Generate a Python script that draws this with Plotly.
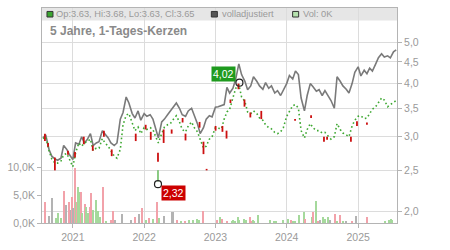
import math
import pandas as pd
import plotly.graph_objects as go

# ---- data ----
adj_close = [2.98, 3.03, 2.80, 2.70, 2.66, 2.64, 2.67, 2.86, 2.80, 2.72,
             2.65, 2.90, 2.88, 3.00, 2.90, 2.95, 3.05, 2.86, 2.90, 2.92,
             3.10, 3.05, 2.98, 2.90, 2.86, 2.90, 3.30, 3.42, 3.72, 3.60,
             3.40, 3.32, 3.45, 3.28, 3.40, 3.35, 3.38, 3.30, 3.15, 2.98,
             3.25, 3.30, 3.38, 3.45, 3.52, 3.60, 3.50, 3.38, 3.35, 3.45,
             3.50, 3.37, 3.22, 3.05, 3.15, 3.30, 3.36, 3.34, 3.52, 3.53,
             3.55, 3.57, 3.92, 3.80, 3.90, 4.10, 4.45, 4.20, 4.05, 3.87,
             3.95, 4.15, 4.05, 3.95, 3.88, 4.02, 3.90, 3.95, 3.80, 3.85,
             3.75, 3.85, 4.00, 4.18, 4.10, 4.28, 4.20, 3.70, 3.45, 3.75,
             4.00, 3.93, 3.84, 3.87, 3.75, 3.85, 3.75, 3.65, 3.50, 4.15,
             4.05, 3.95, 3.88, 3.80, 4.00, 4.25, 4.38, 4.17, 4.30, 4.22,
             4.35, 4.28, 4.45, 4.60, 4.70, 4.62, 4.65, 4.60, 4.75, 4.80]

raw_close = [2.97, 3.00, 2.78, 2.66, 2.60, 2.60, 2.63, 2.72, 2.74, 2.66,
             2.55, 2.75, 2.90, 2.85, 2.90, 2.92, 2.96, 2.78, 2.82, 2.82,
             2.97, 2.90, 2.85, 2.78, 2.70, 2.67, 2.80, 3.20, 3.37, 3.40,
             3.25, 3.10, 3.16, 3.05, 3.15, 3.12, 3.15, 3.12, 3.00, 2.90,
             3.05, 3.16, 3.20, 3.22, 3.30, 3.36, 3.25, 3.12, 3.08, 3.18,
             3.25, 3.15, 3.08, 2.95, 2.82, 2.85, 2.96, 3.00, 3.15, 3.14,
             3.13, 3.30, 3.43, 3.48, 3.70, 3.90, 3.98, 3.72, 3.63, 3.43,
             3.40, 3.45, 3.40, 3.32, 3.28, 3.20, 3.15, 3.13, 3.07, 3.05,
             3.08, 3.15, 3.35, 3.45, 3.55, 3.57, 3.50, 3.10, 2.98, 3.12,
             3.22, 3.15, 3.10, 3.10, 3.06, 3.07, 3.00, 2.96, 3.00, 3.22,
             3.12, 3.06, 3.03, 3.00, 3.18, 3.28, 3.35, 3.36, 3.31, 3.32,
             3.40, 3.48, 3.53, 3.62, 3.70, 3.66, 3.53, 3.57, 3.62, 3.65]

price_dates = pd.date_range("2020-08-01", periods=len(adj_close), freq="SMS")

red_dates = ["2020-08-11", "2020-08-27", "2020-10-01", "2020-12-07", "2021-01-12",
             "2021-02-26", "2021-04-13", "2021-06-09", "2021-07-19", "2021-11-19",
             "2022-01-09", "2022-02-04", "2022-03-13", "2022-04-11", "2022-05-22",
             "2022-07-17", "2022-08-01", "2022-10-12", "2022-11-01", "2022-11-17",
             "2023-01-02", "2023-02-06", "2023-02-27", "2023-03-19", "2023-04-29",
             "2023-05-30", "2023-06-29", "2023-08-24", "2024-02-13", "2024-05-05",
             "2024-07-10", "2024-07-26", "2024-11-25", "2024-12-26", "2025-02-15"]
red_open = [3.05, 2.90, 2.68, 2.78, 2.76, 3.00, 2.86, 3.10, 2.80, 3.05,
            3.20, 3.08, 2.75, 3.12, 3.12, 3.32, 3.05, 3.25, 2.92, 2.52,
            3.18, 3.18, 3.10, 3.67, 4.00, 3.67, 3.42, 3.45, 3.30, 3.37,
            3.00, 3.00, 3.00, 3.26, 3.24]
red_close = [2.93, 2.84, 2.50, 2.72, 2.68, 2.88, 2.78, 3.00, 2.70, 2.93,
             3.12, 2.95, 2.62, 2.90, 3.05, 3.24, 2.94, 3.15, 2.73, 2.50,
             3.10, 3.08, 2.97, 3.60, 3.88, 3.53, 3.33, 3.30, 3.27, 3.32,
             2.92, 2.95, 2.92, 3.18, 3.20]

low_date, low_wick_top, low_value = "2022-03-13", 2.50, 2.32
high_date, high_value = "2023-05-04", 4.02

vol_dates = ["2020-08-13", "2020-09-01", "2020-09-19", "2020-10-06", "2020-10-20",
             "2020-11-01", "2020-11-15", "2020-11-30", "2020-12-13", "2020-12-22",
             "2020-12-27", "2021-01-04", "2021-01-11", "2021-01-18", "2021-01-23",
             "2021-01-28", "2021-02-04", "2021-02-11", "2021-02-19", "2021-03-03",
             "2021-03-10", "2021-03-20", "2021-03-30", "2021-04-06", "2021-04-17",
             "2021-05-02", "2021-05-12", "2021-05-20", "2021-06-05", "2021-06-18",
             "2021-07-14", "2021-07-26", "2021-08-08", "2021-09-08", "2021-10-24",
             "2021-11-15", "2021-12-05", "2021-12-22", "2022-01-09", "2022-01-26",
             "2022-02-15", "2022-03-10", "2022-03-20", "2022-04-12", "2022-05-23",
             "2022-05-28", "2022-06-19", "2022-07-07", "2022-07-29", "2022-08-22",
             "2022-09-10", "2022-10-01", "2022-10-12", "2022-10-29", "2023-01-09",
             "2023-01-26", "2023-02-03", "2023-03-01", "2023-03-27", "2023-04-04",
             "2023-04-13", "2023-04-25", "2023-04-30", "2023-05-26", "2023-06-07",
             "2023-06-26", "2023-07-04", "2023-07-13", "2023-07-20", "2023-08-06",
             "2023-10-10", "2023-10-27", "2023-11-08", "2023-12-14", "2024-01-10",
             "2024-01-22", "2024-02-05", "2024-02-13", "2024-03-06", "2024-03-31",
             "2024-04-04", "2024-05-08", "2024-05-16", "2024-05-30", "2024-06-11",
             "2024-06-20", "2024-07-06", "2024-07-15", "2024-08-01", "2024-08-13",
             "2024-09-04", "2024-09-16", "2024-09-30", "2024-10-17", "2024-11-03",
             "2024-11-29", "2024-12-21", "2025-02-17", "2025-05-17", "2025-06-07",
             "2025-06-17", "2025-06-26"]
vol_k = [3.7, 1.2, 4.5, 0.9, 1.8, 0.9, 5.8, 3.3, 3.8, 2.4,
         4.7, 2.7, 9.8, 3.8, 3.7, 6.5, 5.6, 5.5, 1.8, 3.4,
         2.8, 1.8, 2.9, 5.3, 2.4, 4.1, 2.1, 1.0, 6.5, 0.35,
         0.5, 2.1, 0.6, 1.6, 0.6, 1.0, 1.6, 2.6, 0.6, 0.9,
         0.75, 3.8, 0.9, 1.2, 2.0, 1.9, 0.45, 0.35, 0.35, 0.45,
         0.5, 0.75, 0.45, 2.1, 0.47, 1.05, 0.75, 0.35, 0.35, 0.47,
         0.35, 1.05, 0.5, 0.64, 0.47, 1.05, 0.25, 0.47, 0.35, 1.5,
         0.5, 0.35, 0.25, 0.47, 0.75, 0.47, 0.35, 0.35, 1.5, 1.9,
         0.64, 1.05, 1.9, 4.0, 0.35, 0.47, 1.05, 0.8, 1.05, 0.47,
         1.6, 0.35, 1.4, 0.25, 0.35, 0.35, 1.2, 1.05, 0.2, 0.5,
         0.64, 0.47]
vol_dir = ["d", "n", "n", "u", "u", "u", "d", "n", "d", "n",
           "d", "n", "d", "u", "d", "u", "u", "d", "u", "d",
           "u", "u", "d", "d", "u", "u", "u", "u", "d", "u",
           "d", "d", "n", "n", "n", "d", "n", "d", "u", "d",
           "u", "d", "u", "n", "n", "n", "d", "u", "d", "u",
           "u", "u", "u", "d", "d", "u", "d", "d", "u", "u",
           "u", "u", "u", "u", "u", "d", "d", "u", "u", "u",
           "u", "u", "u", "u", "u", "d", "u", "u", "u", "u",
           "d", "u", "d", "u", "d", "n", "u", "u", "u", "n",
           "d", "u", "d", "u", "n", "d", "n", "d", "u", "u",
           "u", "u"]

price_ticks = [2.0, 2.5, 3.0, 3.5, 4.0, 4.5, 5.0]
vol_ticks = [0, 5000, 10000]
year_ticks = ["2021-01-01", "2022-01-01", "2023-01-01", "2024-01-01", "2025-01-01"]

# ---- styling ----
FONT = "Liberation Sans, Arial, sans-serif"
LABEL = "#9a9a9a"
GRID = "#dcdcdc"
AXIS = "#b4b4b4"
GREEN = "#3ea832"
RED = "#cc1010"
dir_color = {"u": "#a5d99c", "d": "#f2a2aa", "n": "#b3b3b3"}

fig = go.Figure()

# volume bars (left axis)
fig.add_trace(go.Bar(
    x=vol_dates, y=[v * 1000 for v in vol_k],
    marker=dict(color=[dir_color[d] for d in vol_dir], line=dict(width=0)),
    width=6.5 * 86400000, yaxis="y", showlegend=False, hoverinfo="skip"))

# adjusted line
fig.add_trace(go.Scatter(
    x=price_dates, y=adj_close, mode="lines",
    line=dict(color="#7a7a7a", width=1.6), yaxis="y2", showlegend=False))

# unadjusted closes (dotted green)
fig.add_trace(go.Scatter(
    x=price_dates, y=raw_close, mode="lines",
    line=dict(color=GREEN, width=1.6, dash="1.6px,2.6px"), yaxis="y2", showlegend=False))

# red candles
cx, cy = [], []
for d, o, c in zip(red_dates, red_open, red_close):
    cx += [d, d, None]
    cy += [o, c, None]
fig.add_trace(go.Scatter(x=cx, y=cy, mode="lines", line=dict(color=RED, width=1.8),
                         yaxis="y2", showlegend=False))

# low wick
fig.add_trace(go.Scatter(x=[low_date, low_date], y=[low_wick_top, low_value * 1.015],
                         mode="lines", line=dict(color=GREEN, width=1.2),
                         yaxis="y2", showlegend=False))

# extreme markers
fig.add_trace(go.Scatter(x=[high_date, low_date], y=[high_value, low_value], mode="markers",
                         marker=dict(symbol="circle-open", size=7, color="#222",
                                     line=dict(width=1.2)),
                         yaxis="y2", showlegend=False))

fmt = lambda v: f"{v:.2f}".replace(".", ",")
ann = [
    dict(x=high_date, y=math.log10(high_value), xref="x", yref="y2", text=fmt(high_value),
         showarrow=False, xanchor="right", yanchor="middle", xshift=-3, yshift=9,
         bgcolor="#1e9a1e", font=dict(color="white", size=10.5, family=FONT), borderpad=1),
    dict(x=low_date, y=math.log10(low_value), xref="x", yref="y2", text=fmt(low_value),
         showarrow=False, xanchor="left", yanchor="middle", xshift=3, yshift=-9,
         bgcolor="#cc0000", font=dict(color="white", size=10.5, family=FONT), borderpad=1),
    dict(x=0.017, y=0.895, xref="paper", yref="paper", text="<b>5 Jahre, 1-Tages-Kerzen</b>",
         showarrow=False, xanchor="left", yanchor="middle",
         font=dict(color="#8a8a8a", size=12, family=FONT)),
    dict(x=0.034, y=0.971, xref="paper", yref="paper", text="Op:3.63, Hi:3.68, Lo:3.63, Cl:3.65",
         showarrow=False, xanchor="left", yanchor="middle",
         font=dict(color="#9a9a9a", size=9.3, family=FONT)),
    dict(x=0.50, y=0.971, xref="paper", yref="paper", text="volladjustiert",
         showarrow=False, xanchor="left", yanchor="middle",
         font=dict(color="#9a9a9a", size=9.3, family=FONT)),
    dict(x=0.729, y=0.971, xref="paper", yref="paper", text="Vol: 0K",
         showarrow=False, xanchor="left", yanchor="middle",
         font=dict(color="#9a9a9a", size=9.3, family=FONT)),
]

shapes = [
    dict(type="rect", xref="paper", yref="paper", x0=0, x1=1, y0=0.942, y1=1,
         fillcolor="#e6e6e6", line=dict(width=0), layer="below"),
    dict(type="rect", xref="paper", yref="paper", x0=0.0140, x1=0.0309, y0=0.958, y1=0.984,
         fillcolor="#3aa530", line=dict(color="#333", width=1)),
    dict(type="rect", xref="paper", yref="paper", x0=0.4770, x1=0.4940, y0=0.958, y1=0.984,
         fillcolor="#555", line=dict(color="#333", width=1)),
    dict(type="rect", xref="paper", yref="paper", x0=0.7060, x1=0.7230, y0=0.958, y1=0.984,
         fillcolor="#b6e2ae", line=dict(color="#333", width=1)),
]

fig.update_layout(
    width=450, height=250,
    margin=dict(l=41, r=53, t=7, b=18),
    paper_bgcolor="white", plot_bgcolor="white",
    font=dict(family=FONT, size=10.5, color=LABEL),
    showlegend=False, bargap=0,
    annotations=ann, shapes=shapes,
    xaxis=dict(type="date", range=["2020-07-27", "2025-07-19"],
               tickvals=year_ticks, tickformat="%Y",
               showgrid=True, gridcolor=GRID, gridwidth=1,
               showline=True, linecolor=AXIS, mirror=True,
               ticks="outside", ticklen=4, tickcolor=AXIS,
               tickfont=dict(size=10.5, color=LABEL), zeroline=False),
    yaxis=dict(range=[0, 38500], tickvals=vol_ticks,
               ticktext=[f"{v/1000:.1f}K".replace(".", ",") for v in vol_ticks],
               side="left", showgrid=False, zeroline=False,
               showline=True, linecolor=AXIS,
               ticks="outside", ticklen=4, tickcolor=AXIS,
               tickfont=dict(size=10.5, color=LABEL)),
    yaxis2=dict(type="log", range=[0.2741, 0.7799], overlaying="y", side="right",
                tickvals=price_ticks,
                ticktext=[f"{v:.1f}".replace(".", ",") for v in price_ticks],
                showgrid=True, gridcolor=GRID, gridwidth=1, zeroline=False,
                showline=True, linecolor=AXIS,
                ticks="outside", ticklen=4, tickcolor=AXIS,
                tickfont=dict(size=10.5, color=LABEL)),
)

fig.write_html("out.html")
